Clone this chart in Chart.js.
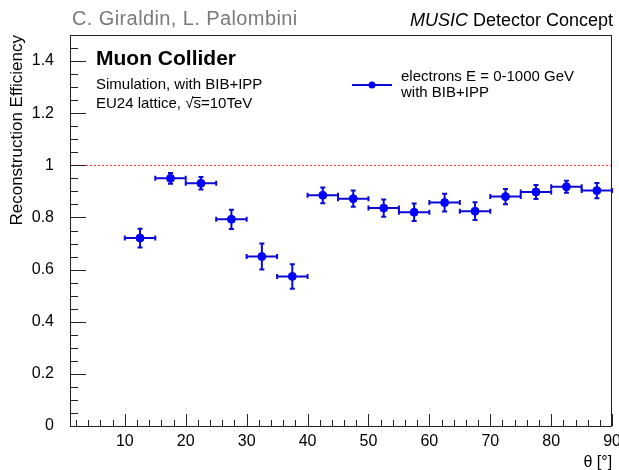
<!DOCTYPE html>
<html>
<head>
<meta charset="utf-8">
<script src="https://cdn.jsdelivr.net/npm/chart.js@4.4.1/dist/chart.umd.min.js"></script>
<style>
  html, body { margin: 0; padding: 0; background: #fff; }
  #wrap { width: 619px; height: 470px; }
</style>
</head>
<body>
<div id="wrap"><canvas id="effChart" width="619" height="470"></canvas></div>
<script>
// theta bin centres and half widths (deg)
const thetaBins = [12.5, 17.5, 22.5, 27.5, 32.5, 37.5, 42.5, 47.5, 52.5, 57.5, 62.5, 67.5, 72.5, 77.5, 82.5, 87.5];
const thetaHalfWidth = [2.5, 2.5, 2.5, 2.5, 2.5, 2.5, 2.5, 2.5, 2.5, 2.5, 2.5, 2.5, 2.5, 2.5, 2.5, 2.5];
// reconstruction efficiency and its error
const efficiency = [0.721, 0.950, 0.931, 0.793, 0.650, 0.574, 0.885, 0.872, 0.836, 0.820, 0.857, 0.824, 0.880, 0.898, 0.918, 0.903];
const effError = [0.036, 0.021, 0.024, 0.037, 0.050, 0.047, 0.030, 0.031, 0.033, 0.034, 0.034, 0.034, 0.029, 0.027, 0.023, 0.029];
const xTickValues = [10, 20, 30, 40, 50, 60, 70, 80, 90];
const yTickValues = [0, 0.2, 0.4, 0.6, 0.8, 1, 1.2, 1.4];
const refLine = [1, 90];   // efficiency = 1 reference

const FONT = "'Liberation Sans', Arial, Helvetica, sans-serif";
const BLUE = '#0000ff';
const BAR = '#0a0ad2';

const points = thetaBins.map((t, i) => ({ x: t, y: efficiency[i] }));

// error bars drawn under the markers
const errorBars = {
  id: 'errorBars',
  beforeDatasetsDraw(chart) {
    const { ctx, scales: { x, y } } = chart;
    ctx.save();
    ctx.strokeStyle = BAR;
    ctx.lineWidth = 2;
    const cap = 2.5;
    thetaBins.forEach((t, i) => {
      const px = x.getPixelForValue(t);
      const py = y.getPixelForValue(efficiency[i]);
      const x0 = x.getPixelForValue(t - thetaHalfWidth[i]);
      const x1 = x.getPixelForValue(t + thetaHalfWidth[i]);
      const y0 = y.getPixelForValue(efficiency[i] - effError[i]);
      const y1 = y.getPixelForValue(efficiency[i] + effError[i]);
      ctx.beginPath();
      ctx.moveTo(x0, py); ctx.lineTo(x1, py);
      ctx.moveTo(px, y0); ctx.lineTo(px, y1);
      ctx.moveTo(x0, py - cap); ctx.lineTo(x0, py + cap);
      ctx.moveTo(x1, py - cap); ctx.lineTo(x1, py + cap);
      ctx.moveTo(px - cap, y0); ctx.lineTo(px + cap, y0);
      ctx.moveTo(px - cap, y1); ctx.lineTo(px + cap, y1);
      ctx.stroke();
    });
    ctx.restore();
  }
};

// ROOT style frame with inward ticks
const frameTicks = {
  id: 'frameTicks',
  afterDraw(chart) {
    const { ctx, chartArea: a, scales: { x, y } } = chart;
    ctx.save();
    ctx.strokeStyle = '#222';
    ctx.lineWidth = 1;
    ctx.strokeRect(Math.round(a.left) + 0.5, Math.round(a.top) + 0.5, Math.round(a.right - a.left) - 1, Math.round(a.bottom - a.top));
    ctx.beginPath();
    for (let v = 2; v <= 90; v += 2) {
      const px = Math.round(x.getPixelForValue(v)) + 0.5;
      const len = v % 10 === 0 ? 12 : 6;
      ctx.moveTo(px, a.bottom); ctx.lineTo(px, a.bottom - len);
    }
    for (let k = 0; k <= 29; k++) {
      const v = k * 0.05;
      const py = Math.round(y.getPixelForValue(v)) + 0.5;
      const len = k % 4 === 0 ? 16 : 8;
      ctx.moveTo(a.left, py); ctx.lineTo(a.left + len, py);
    }
    ctx.stroke();
    ctx.restore();
  }
};

// labels, legend and header texts
const annotations = {
  id: 'annotations',
  afterDraw(chart) {
    const { ctx } = chart;
    ctx.save();
    ctx.textBaseline = 'middle';

    ctx.fillStyle = '#7a7a7a';
    ctx.font = `20px ${FONT}`;
    ctx.letterSpacing = '0.4px';
    ctx.textAlign = 'left';
    ctx.fillText('C. Giraldin, L. Palombini', 72, 19);
    ctx.letterSpacing = '0px';

    ctx.fillStyle = '#000';
    ctx.textAlign = 'left';
    ctx.font = `italic 18px ${FONT}`;
    const musicW = ctx.measureText('MUSIC').width;
    ctx.font = `18px ${FONT}`;
    const restW = ctx.measureText(' Detector Concept').width;
    const startX = 613 - musicW - restW;
    ctx.font = `italic 18px ${FONT}`;
    ctx.fillText('MUSIC', startX, 21);
    ctx.font = `18px ${FONT}`;
    ctx.fillText(' Detector Concept', startX + musicW, 21);

    ctx.font = `bold 21px ${FONT}`;
    ctx.fillText('Muon Collider', 96, 59);

    ctx.font = `15px ${FONT}`;
    ctx.fillText('Simulation, with BIB+IPP', 96, 85);
    let tx = 96;
    const seg1 = 'EU24 lattice, ';
    ctx.fillText(seg1, tx, 104);
    tx += ctx.measureText(seg1).width;
    ctx.fillText('\u221A', tx, 104);
    tx += ctx.measureText('\u221A').width;
    const sW = ctx.measureText('s').width;
    ctx.fillText('s', tx, 104);
    ctx.strokeStyle = '#000';
    ctx.lineWidth = 1;
    ctx.beginPath();
    ctx.moveTo(tx - 1, 97.5); ctx.lineTo(tx + sW, 97.5);
    ctx.stroke();
    tx += sW;
    ctx.fillText('=10TeV', tx, 104);

    // legend
    ctx.strokeStyle = BAR;
    ctx.lineWidth = 2;
    ctx.beginPath();
    ctx.moveTo(352, 85); ctx.lineTo(392, 85);
    ctx.stroke();
    ctx.fillStyle = BLUE;
    ctx.beginPath();
    ctx.arc(372, 85, 3.5, 0, Math.PI * 2);
    ctx.fill();
    ctx.fillStyle = '#000';
    ctx.font = `15px ${FONT}`;
    ctx.fillText('electrons E = 0-1000 GeV', 401, 77);
    ctx.fillText('with BIB+IPP', 401, 93);
    ctx.restore();
  }
};

new Chart(document.getElementById('effChart'), {
  type: 'scatter',
  data: {
    datasets: [
      {
        label: 'electrons E = 0-1000 GeV with BIB+IPP',
        data: points,
        backgroundColor: BLUE,
        borderColor: BLUE,
        pointRadius: 4,
        pointHoverRadius: 4,
        showLine: false
      },
      {
        label: 'reference',
        data: refLine.map(v => ({ x: v, y: 1 })),
        showLine: true,
        borderColor: '#ff2a2a',
        borderWidth: 1,
        borderDash: [2, 2],
        pointRadius: 0
      }
    ]
  },
  options: {
    responsive: false,
    devicePixelRatio: 1,
    animation: false,
    layout: { padding: { top: 35, right: 6, left: 0, bottom: 0 } },
    plugins: { legend: { display: false }, tooltip: { enabled: false } },
    scales: {
      x: {
        type: 'linear',
        min: 1,
        max: 90,
        afterBuildTicks: s => { s.ticks = xTickValues.map(v => ({ value: v })); },
        afterFit: s => { s.height = 44; },
        grid: { display: false },
        border: { display: false },
        ticks: { color: '#000', font: { family: FONT, size: 16 }, padding: -2, maxRotation: 0 },
        title: { display: true, text: '\u03B8 [\u00B0]', align: 'end', color: '#000', font: { family: FONT, size: 16 }, padding: { top: 0, bottom: -2 } }
      },
      y: {
        min: 0,
        max: 1.5,
        afterBuildTicks: s => { s.ticks = yTickValues.map(v => ({ value: v })); },
        afterFit: s => { s.width = 70; },
        grid: { display: false },
        border: { display: false },
        ticks: { color: '#000', font: { family: FONT, size: 16 }, padding: 8, callback: v => String(+v.toFixed(1)) },
        title: { display: true, text: 'Reconstruction Efficiency', align: 'end', color: '#000', font: { family: FONT, size: 17 }, padding: { top: 7, bottom: 0 } }
      }
    }
  },
  plugins: [errorBars, frameTicks, annotations]
});
</script>
</body>
</html>
